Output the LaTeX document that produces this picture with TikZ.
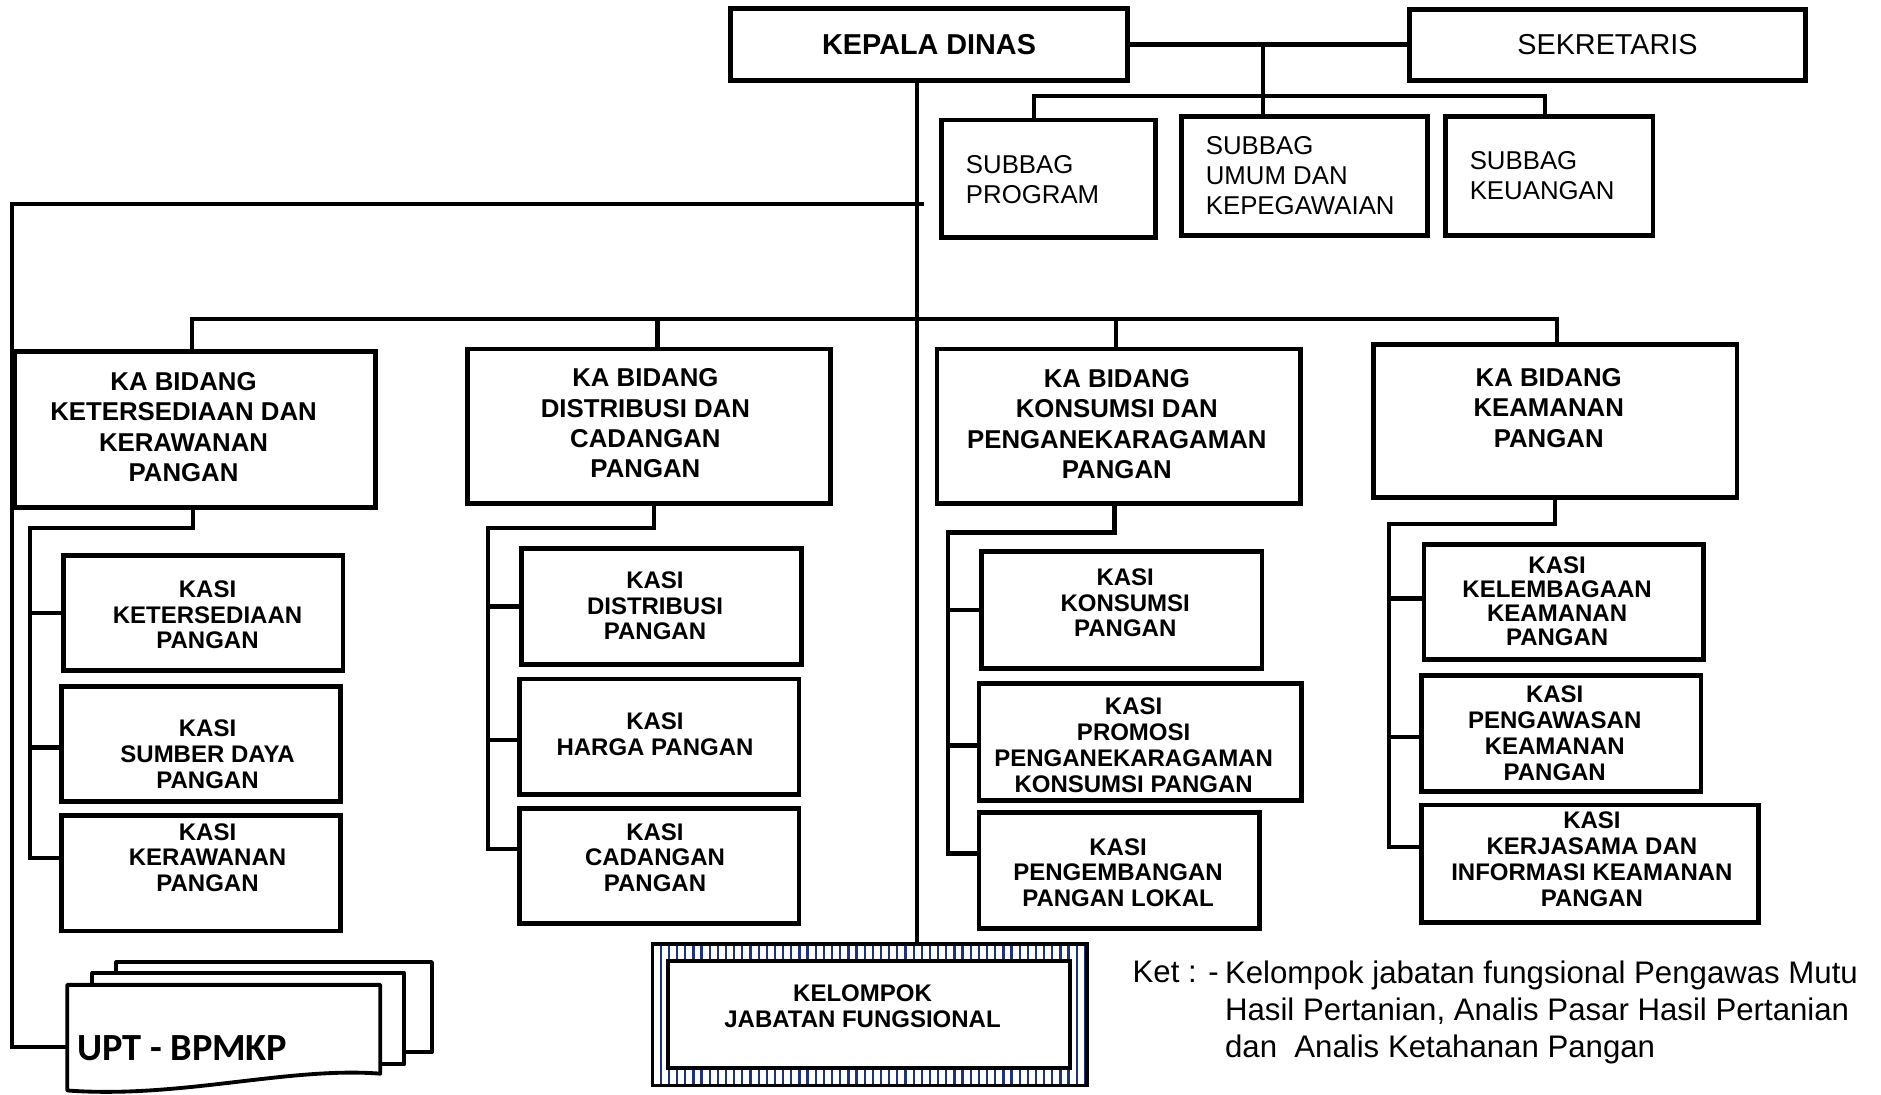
\documentclass[tikz,border=0pt]{standalone}
\usepackage{fontspec}
\setmainfont{Liberation Sans}
\newfontfamily\calibrifont{Carlito}
\definecolor{gridblue}{RGB}{30,50,130}
\newcommand\obox[5]{\node[box, minimum width={#4-#2}, minimum height={#5-#3}] (#1) at ({(#2+#4)/2},{(#3+#5)/2}) {};}
\begin{document}
\begin{tikzpicture}[x=1pt,y=-1pt,
  box/.style={draw, line width=4pt, fill=white, inner sep=0pt, outer sep=0pt},
  conn/.style={line width=3.6pt},
  mainl/.style={line width=3.3pt},
  bidt/.style={font=\bfseries\fontsize{21.5}{25.3}\selectfont, align=center, inner sep=0pt},
  kasit/.style={font=\bfseries\fontsize{20}{21.6}\selectfont, align=center, inner sep=0pt},
  subt/.style={font=\fontsize{21.5}{25.3}\selectfont, align=left, anchor=west, inner sep=0pt},
  kett/.style={font=\fontsize{26}{31}\selectfont, anchor=north west, inner sep=0pt, align=left},
  stk/.style={draw, fill=white, line width=3.2pt, line join=round}]
\useasboundingbox (0,0) rectangle (1568,912);

\coordinate (mvtop) at (764,67);
\coordinate (lb) at (770,170);
\coordinate (lc) at (10,170);
\coordinate (uptw) at (56,873);
\coordinate (bus) at (764,266);
\coordinate (sj) at (1053,80);

% ---------- top ----------
\node[box, minimum width=331, minimum height=60, font=\bfseries\fontsize{24}{28}\selectfont] (kepala) at (774.5,37) {KEPALA DINAS};
\node[box, minimum width=330, minimum height=59, font=\fontsize{24}{28}\selectfont] (sek) at (1340,37.5) {SEKRETARIS};
\draw[conn] (kepala.east) -- (kepala.east -| sek.west);

\obox{prog}{785}{100}{963}{198}
\obox{umum}{985}{97}{1190}{196}
\obox{keu}{1205}{97}{1378}{196}
\draw[conn] (sj |- kepala.east) -- (sj |- umum.north);
\draw[conn] ([xshift=-12pt]prog.north) |- (sj) -| ([xshift=-3.5pt]keu.north);
\node[subt] (tprog) at (805,149.5) {SUBBAG\\PROGRAM};
\node[subt] (tumum) at (1005,146.5) {SUBBAG\\UMUM DAN\\KEPEGAWAIAN};
\node[subt] (tkeu) at (1225,146.5) {SUBBAG\\KEUANGAN};

% ---------- Kelompok jabatan fungsional ----------
\begin{scope}[even odd rule]
  \clip (544,787) rectangle (906,905) (557,801) rectangle (892,890);
  \fill[white] (544,787) rectangle (906,905);
  \draw[gridblue, line width=1.9pt, step=6.8] (544,787) grid (906,905);
\end{scope}
\node[draw, line width=3pt, inner sep=0pt, outer sep=0pt, minimum width=362, minimum height=118] (kjf) at (725,846) {};
\node[box, line width=3.4pt, minimum width=335, minimum height=89] (kjfin) at (724.5,845.5) {};
\node[font=\bfseries\fontsize{20}{22}\selectfont, align=center, inner sep=0pt] (tkjf) at (719,839) {KELOMPOK\\JABATAN FUNGSIONAL};

% main vertical and left branch
\draw[mainl] (mvtop) -- (mvtop |- kjf.north);
\draw[mainl] (lb) -- (lc) |- (uptw);

% ---------- bidang ----------
\obox{b1}{12}{293}{313}{423}
\obox{b2}{390}{291}{692}{420}
\obox{b3}{781}{291}{1084}{420}
\obox{b4}{1145}{287}{1448}{415}
\draw[conn] ([xshift=-2.5pt]b1.north) -- ([xshift=-2.5pt]b1.north |- bus) -- ([xshift=1.5pt]b4.north |- bus) -- ([xshift=1.5pt]b4.north);
\draw[conn] ([xshift=7pt]b2.north) -- ([xshift=7pt]b2.north |- bus);
\draw[conn] ([xshift=-2.5pt]b3.north) -- ([xshift=-2.5pt]b3.north |- bus);
\node[bidt] (tb1) at (153,356) {KA BIDANG\\KETERSEDIAAN DAN\\KERAWANAN\\PANGAN};
\node[bidt] (tb2) at (538,353) {KA BIDANG\\DISTRIBUSI DAN\\CADANGAN\\PANGAN};
\node[bidt] (tb3) at (931,353.5) {KA BIDANG\\KONSUMSI DAN\\PENGANEKARAGAMAN\\PANGAN};
\node[bidt] (tb4) at (1291,340) {KA BIDANG\\KEAMANAN\\PANGAN};

% ---------- kasi column 1 ----------
\coordinate (c1) at (25,440);
\obox{k11}{53}{463}{286}{559}
\obox{k12}{51}{572}{284}{668}
\obox{k13}{51}{680}{284}{776}
\draw[conn] ([xshift=-1.5pt]b1.south) |- (c1) |- ([yshift=13pt]k13.west);
\draw[conn] (c1 |- k11.west) -- (k11.west);
\draw[conn] ([yshift=-3pt]c1 |- k12.west) -- ([yshift=-3pt]k12.west);
\node[kasit] (tk11) at (173,512.5) {KASI\\KETERSEDIAAN\\PANGAN};
\node[kasit] (tk12) at (173,629) {KASI\\SUMBER DAYA\\PANGAN};
\node[kasit] (tk13) at (173,715) {KASI\\KERAWANAN\\PANGAN};

% ---------- kasi column 2 ----------
\coordinate (c2) at (407,440);
\obox{k21}{435}{457}{668}{554}
\obox{k22}{433}{566}{666}{662}
\obox{k23}{433}{674}{666}{770}
\draw[conn] ([xshift=4pt]b2.south) |- (c2) |- ([yshift=14pt]k23.west);
\draw[conn] (c2 |- k21.west) -- (k21.west);
\draw[conn] ([yshift=-3pt]c2 |- k22.west) -- ([yshift=-3pt]k22.west);
\node[kasit] (tk21) at (546,505) {KASI\\DISTRIBUSI\\PANGAN};
\node[kasit] (tk22) at (546,612) {KASI\\HARGA PANGAN};
\node[kasit] (tk23) at (546,715) {KASI\\CADANGAN\\PANGAN};

% ---------- kasi column 3 ----------
\coordinate (c3) at (790,444);
\obox{k31}{818}{460}{1052}{557}
\obox{k32}{816}{570}{1085}{667}
\obox{k33}{816}{677}{1050}{774}
\draw[conn] ([xshift=-3.5pt]b3.south) |- (c3) |- ([yshift=14pt]k33.west);
\draw[conn] (c3 |- k31.west) -- (k31.west);
\draw[conn] ([yshift=-3pt]c3 |- k32.west) -- ([yshift=-3pt]k32.west);
\node[kasit] (tk31) at (938,502.5) {KASI\\KONSUMSI\\PANGAN};
\node[kasit] (tk32) at (945,621.5) {KASI\\PROMOSI\\PENGANEKARAGAMAN\\KONSUMSI PANGAN};
\node[kasit] (tk33) at (932,727.5) {KASI\\PENGEMBANGAN\\PANGAN LOKAL};

% ---------- kasi column 4 ----------
\coordinate (c4) at (1158,437);
\obox{k41}{1187}{454}{1420}{550}
\obox{k42}{1185}{563}{1418}{660}
\obox{k43}{1185}{671}{1466}{769}
\draw[conn] (b4.south) |- (c4) |- ([yshift=14pt]k43.west);
\draw[conn] ([yshift=3pt]c4 |- k41.west) -- ([yshift=3pt]k41.west);
\draw[conn] ([yshift=-3pt]c4 |- k42.west) -- ([yshift=-3pt]k42.west);
\node[kasit, font=\bfseries\fontsize{20}{20}\selectfont] (tk41) at (1298,501) {KASI\\KELEMBAGAAN\\KEAMANAN\\PANGAN};
\node[kasit] (tk42) at (1296,611) {KASI\\PENGAWASAN\\KEAMANAN\\PANGAN};
\node[kasit] (tk43) at (1327,716.5) {KASI\\KERJASAMA DAN\\INFORMASI KEAMANAN\\PANGAN};

% ---------- UPT stack ----------
\draw[stk] (97,802) rectangle (360,877);
\draw[stk] (77,811) rectangle (337,887);
\draw[stk] (56,821) -- (317,821) -- (317,895) .. controls (240,889) and (150,916) .. (56,909) -- cycle;
\node[font=\calibrifont\bfseries\fontsize{32}{36}\selectfont, anchor=west, inner sep=0pt] (upt) at (64,874) {UPT - BPMKP};

% ---------- keterangan ----------
\node[kett] (ketlbl) at (944,800.5) {Ket : -};
\node[kett] (ket) at (1021,800.5) {Kelompok jabatan fungsional Pengawas Mutu\\Hasil Pertanian, Analis Pasar Hasil Pertanian\\dan\ \ Analis Ketahanan Pangan};
\end{tikzpicture}
\end{document}
